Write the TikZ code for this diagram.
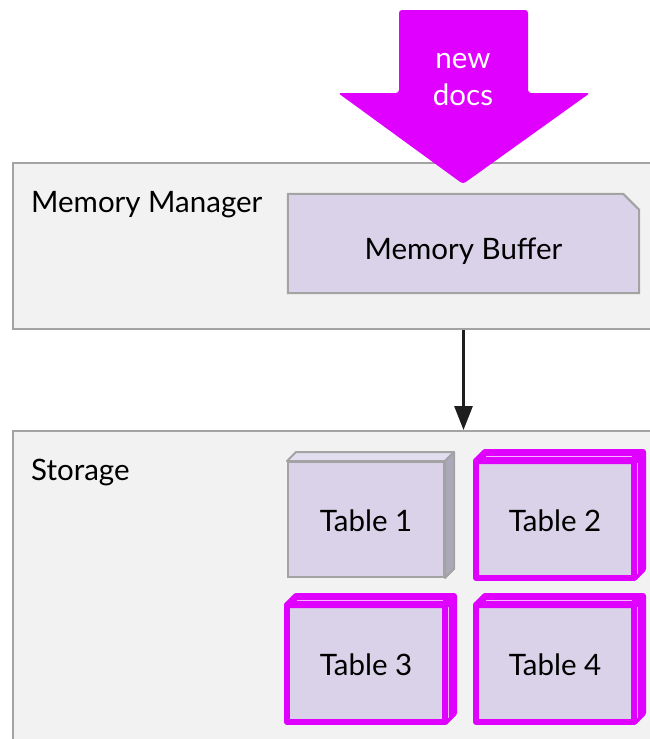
\documentclass[tikz,border=0pt]{standalone}
\usepackage{fontspec}
\setmainfont{Lato}
\usepackage{tikz}
\usetikzlibrary{arrows.meta,positioning,calc}

\definecolor{panelbg}{HTML}{F2F2F2}
\definecolor{panelline}{HTML}{A3A3A3}
\definecolor{lav}{HTML}{D9D2E9}
\definecolor{lavtop}{HTML}{E2DEF0}
\definecolor{lavside}{HTML}{ABA9B8}
\definecolor{docpink}{HTML}{E000FF}
\definecolor{flowline}{HTML}{1E1E1E}

\tikzset{
  big/.style={font=\fontsize{29.5}{35}\selectfont},
  panel/.style={draw=panelline, fill=panelbg, line width=2pt, anchor=north west,
    inner sep=0pt, minimum width=700pt},
  title/.style={big, anchor=base west, inner sep=0pt},
  buffer/.style={minimum width=351pt, minimum height=99pt, inner sep=0pt},
  tbl/.style={draw=panelline, fill=lav, line width=2pt, minimum width=156pt,
    minimum height=115pt, inner sep=0pt},
  hot/.style={draw=docpink, line width=6pt, line join=round},
  flow/.style={draw=flowline, line width=3pt, -{Triangle[length=24pt,width=18pt]}},
}

% gray box with depth: top and right faces
\newcommand{\boxfaces}[1]{%
  \filldraw[draw=panelline, fill=lavtop, line width=2pt, line join=round]
    (#1.north west) -- ++(9,-9) -- ($(#1.north east)+(9,-9)$) -- (#1.north east) -- cycle;
  \filldraw[draw=panelline, fill=lavside, line width=2pt, line join=round]
    (#1.north east) -- ++(9,-9) -- ($(#1.south east)+(9,-9)$) -- (#1.south east) -- cycle;
}
% magenta box with depth (table that gets the new docs)
\newcommand{\hotfaces}[1]{%
  \filldraw[hot, fill=docpink]
    (#1.north west) -- ++(9,-9) -- ($(#1.north east)+(9,-9)$) -- (#1.north east) -- cycle;
  \filldraw[hot, fill=docpink]
    (#1.north east) -- ++(9,-9) -- ($(#1.south east)+(9,-9)$) -- (#1.south east) -- cycle;
  \draw[hot] (#1.north west) rectangle (#1.south east);
  \draw[white!70!docpink, line width=0.8pt]
    ($(#1.north west)+(10,-5)$) -- ($(#1.north east)+(-2,-5)$);
  \draw[white!70!docpink, line width=0.8pt]
    ($(#1.north east)+(3,2)$) -- ($(#1.south east)+(3,-4)$);
}

\begin{document}
\begin{tikzpicture}[x=1pt,y=-1pt]
\useasboundingbox (0,0) rectangle (650,739);
\clip (0,0) rectangle (650,739);

% Panels
\node[panel, minimum height=166pt] (mgr) at (12,162) {};
\node[title] (mgrtitle) at ($(mgr.north west)+(19,50)$) {Memory Manager};
\node[panel, minimum height=400pt] (store) at (12,430) {};
\node[title] (storetitle) at ($(store.north west)+(19,50)$) {Storage};

% Buffer (note shape, one corner cut)
\node[buffer] (buf) at (463.5,243.5) {};
\filldraw[draw=panelline, fill=lav, line width=2pt]
  (buf.south west) -- (buf.north west) -- ($(buf.north east)+(-16,0)$)
  -- ($(buf.north east)+(0,16)$) -- (buf.south east) -- cycle;
\node[big] (buftext) at ($(buf.center)+(0,8)$) {Memory Buffer};

% Tables
\node[tbl] (t1) at (366,519.5) {};
\boxfaces{t1}
\node[tbl, right=31pt of t1] (t2) {};
\node[tbl, below=27pt of t1] (t3) {};
\node[tbl, right=31pt of t3] (t4) {};
\foreach \t in {t2,t3,t4} {\hotfaces{\t}}
\foreach \t/\n in {t1/1,t2/2,t3/3,t4/4}
  \node[big] (\t text) at ($(\t.center)+(0,1)$) {Table \n};

% Flush
\draw[flow] (buf.south |- mgr.south) -- (buf.south |- store.north);

% Incoming docs
\fill[docpink, rounded corners=3pt]
  (399,10) -- (528,10) -- (528,93) -- (590,93) -- (463,184) -- (338,93) -- (399,93) -- cycle;
\node[white, align=center, font=\fontsize{29.5}{37}\selectfont] (docs) at (463,80) {new\\docs};
\end{tikzpicture}
\end{document}
